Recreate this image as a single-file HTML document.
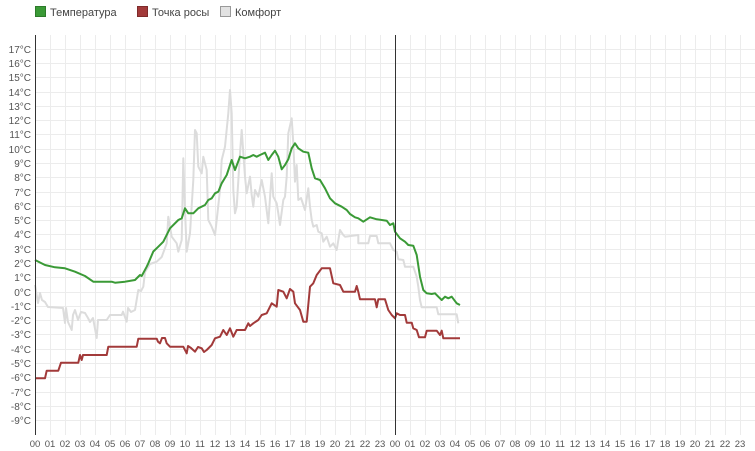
<!DOCTYPE html>
<html><head><meta charset="utf-8"><style>
html,body{margin:0;padding:0;background:#fff;}
svg{display:block;}
</style></head><body>
<svg width="755" height="451" viewBox="0 0 755 451" xmlns="http://www.w3.org/2000/svg" font-family="Liberation Sans, sans-serif">
<g stroke="#ececec" stroke-width="1" shape-rendering="crispEdges">
<line x1="35" y1="49.5" x2="755" y2="49.5"/><line x1="35" y1="63.5" x2="755" y2="63.5"/><line x1="35" y1="77.5" x2="755" y2="77.5"/><line x1="35" y1="92.5" x2="755" y2="92.5"/><line x1="35" y1="106.5" x2="755" y2="106.5"/><line x1="35" y1="120.5" x2="755" y2="120.5"/><line x1="35" y1="134.5" x2="755" y2="134.5"/><line x1="35" y1="149.5" x2="755" y2="149.5"/><line x1="35" y1="163.5" x2="755" y2="163.5"/><line x1="35" y1="177.5" x2="755" y2="177.5"/><line x1="35" y1="192.5" x2="755" y2="192.5"/><line x1="35" y1="206.5" x2="755" y2="206.5"/><line x1="35" y1="220.5" x2="755" y2="220.5"/><line x1="35" y1="234.5" x2="755" y2="234.5"/><line x1="35" y1="249.5" x2="755" y2="249.5"/><line x1="35" y1="263.5" x2="755" y2="263.5"/><line x1="35" y1="277.5" x2="755" y2="277.5"/><line x1="35" y1="292.5" x2="755" y2="292.5"/><line x1="35" y1="306.5" x2="755" y2="306.5"/><line x1="35" y1="320.5" x2="755" y2="320.5"/><line x1="35" y1="334.5" x2="755" y2="334.5"/><line x1="35" y1="349.5" x2="755" y2="349.5"/><line x1="35" y1="363.5" x2="755" y2="363.5"/><line x1="35" y1="377.5" x2="755" y2="377.5"/><line x1="35" y1="392.5" x2="755" y2="392.5"/><line x1="35" y1="406.5" x2="755" y2="406.5"/><line x1="35" y1="420.5" x2="755" y2="420.5"/>
<line x1="50.5" y1="35" x2="50.5" y2="435"/><line x1="65.5" y1="35" x2="65.5" y2="435"/><line x1="80.5" y1="35" x2="80.5" y2="435"/><line x1="95.5" y1="35" x2="95.5" y2="435"/><line x1="110.5" y1="35" x2="110.5" y2="435"/><line x1="125.5" y1="35" x2="125.5" y2="435"/><line x1="140.5" y1="35" x2="140.5" y2="435"/><line x1="155.5" y1="35" x2="155.5" y2="435"/><line x1="170.5" y1="35" x2="170.5" y2="435"/><line x1="185.5" y1="35" x2="185.5" y2="435"/><line x1="200.5" y1="35" x2="200.5" y2="435"/><line x1="215.5" y1="35" x2="215.5" y2="435"/><line x1="230.5" y1="35" x2="230.5" y2="435"/><line x1="245.5" y1="35" x2="245.5" y2="435"/><line x1="260.5" y1="35" x2="260.5" y2="435"/><line x1="275.5" y1="35" x2="275.5" y2="435"/><line x1="290.5" y1="35" x2="290.5" y2="435"/><line x1="305.5" y1="35" x2="305.5" y2="435"/><line x1="320.5" y1="35" x2="320.5" y2="435"/><line x1="335.5" y1="35" x2="335.5" y2="435"/><line x1="350.5" y1="35" x2="350.5" y2="435"/><line x1="365.5" y1="35" x2="365.5" y2="435"/><line x1="380.5" y1="35" x2="380.5" y2="435"/><line x1="410.5" y1="35" x2="410.5" y2="435"/><line x1="425.5" y1="35" x2="425.5" y2="435"/><line x1="440.5" y1="35" x2="440.5" y2="435"/><line x1="455.5" y1="35" x2="455.5" y2="435"/><line x1="470.5" y1="35" x2="470.5" y2="435"/><line x1="485.5" y1="35" x2="485.5" y2="435"/><line x1="500.5" y1="35" x2="500.5" y2="435"/><line x1="515.5" y1="35" x2="515.5" y2="435"/><line x1="530.5" y1="35" x2="530.5" y2="435"/><line x1="545.5" y1="35" x2="545.5" y2="435"/><line x1="560.5" y1="35" x2="560.5" y2="435"/><line x1="575.5" y1="35" x2="575.5" y2="435"/><line x1="590.5" y1="35" x2="590.5" y2="435"/><line x1="605.5" y1="35" x2="605.5" y2="435"/><line x1="620.5" y1="35" x2="620.5" y2="435"/><line x1="635.5" y1="35" x2="635.5" y2="435"/><line x1="650.5" y1="35" x2="650.5" y2="435"/><line x1="665.5" y1="35" x2="665.5" y2="435"/><line x1="680.5" y1="35" x2="680.5" y2="435"/><line x1="695.5" y1="35" x2="695.5" y2="435"/><line x1="710.5" y1="35" x2="710.5" y2="435"/><line x1="725.5" y1="35" x2="725.5" y2="435"/><line x1="740.5" y1="35" x2="740.5" y2="435"/>
</g>
<g fill="none" stroke-width="2" stroke-linejoin="round">
<polyline stroke="#dcdcdc" points="35,285 38,303 40,293 42,300 45,302 48,307 63,308 65,323 66,308 68,322 71.7,330 73,315 75,310 78,320 81,312 85,313 88,318 90,322 93,318 96.7,338 98,320 106.7,320 110,315 121.7,315 123,311.7 126.7,321.7 128,308 131,312 135,310 138.3,290 141,291 143.3,286.7 145,272 150,264 153,263 156.7,261.7 161.7,257 166.7,243.3 168.3,216.7 171.7,236.7 176.7,243.3 178.3,251.7 181.7,240 183.3,158.3 185,210 186.7,251.7 190,233.3 193.3,180 195,130 196.7,133.3 198.3,166.7 201.7,173.3 203.3,156.7 206.7,170 208.3,220 211.7,226.7 215,235 216.7,220 220,190 221.7,160 225,146.7 228.3,113.3 230,90 231.7,113.3 233.3,190 235,213.3 236.7,206.7 240,153.3 241.7,130 245,176.7 246.7,193.3 250,176.7 251.7,195 253.3,206.7 255,190 258.3,196.7 261.7,180 265,196.7 268.3,223.3 271.7,173.3 273.3,196.7 276.7,203.3 278.3,213.3 280,225 283.3,200 285,196.7 286.7,176.7 288.3,133.3 291.7,118.3 293.3,143.3 295,181.7 296.7,165 298.3,200 301,198 305,210 308.3,188.3 310,206.7 311.7,220 313.3,226.7 316.7,225 318.3,231.7 321.7,233.3 323.3,241.7 326.7,236.7 330,246.7 333.3,243.3 336.7,250 340,230 343.3,235 345,236.7 358.3,235 358.3,243.3 368.3,243.3 370,236 376.7,236 378.3,243.3 390,243.3 393.3,250 396.7,251.7 398.3,259.3 403.3,260 405,266.7 413.3,266.7 416.7,276.7 418.3,286.7 420,300 421.7,307.3 436.7,307.3 438.3,314.3 456.7,314.3 458.3,323.3"/>
<polyline stroke="#3a9a36" points="35,260 45,265 55,267.3 65,268.3 75,271.7 85,276 93.3,281.7 101.7,281.7 111.7,281.7 115,282.7 125,281.7 135,280 140,275 141.7,276 146.7,266.7 148.3,263.3 153.3,251.5 158.3,246.7 161.7,243.3 163.3,241.7 170,228.3 178.3,220 181.7,218.3 185,208.3 188.3,213.3 193.3,213.3 198.3,208.3 205,205 208.3,200 211.7,198.3 215,193.3 218.3,191.7 221.7,183.3 226.7,175 231.7,160 235,170 240,156.7 245,158.3 250,156.7 253.3,155 256.7,156.7 260,155 265,152.7 268.3,160 271.7,155 275,150.7 278.3,156.7 281.7,169.3 285,165 288.3,159.3 291.7,148.3 295,143.3 298.3,148.3 303.3,151.7 308.3,152.7 311.7,168.3 315,178.3 320,180 325,188.3 330,198.3 335,203.3 341.7,206.7 346.7,210 350,214 355,217.3 358.3,218.3 363.3,221.7 370,217.3 376.7,219.3 386.7,220.7 390,225 393.3,223.3 395,231.7 400,238.3 405,241.7 408.3,245 413.3,245.7 416.7,255 420,276.7 423.3,290 426.7,293.3 431.7,294 435,293.3 438.3,296.7 441.7,300 445,296.7 448.3,298.3 451.7,296.7 456.7,303.3 460,305"/>
<polyline stroke="#a23a3a" points="35,378.3 45,378.3 46.7,370.7 58.3,370.7 61,362.7 78.3,362.7 80,355 81.7,360 83,355 85,355 106.7,355 108.3,346.7 136.7,346.7 138.3,338.7 156.7,338.7 158,341.7 160,343.3 162,338 165,338 166.7,343.3 170,346.7 183.3,346.7 186.7,353.3 188,346 191,348 195,351.7 198,347 201.7,348.3 204,352 206.7,350 211.7,345 215,338.3 220,336.7 223.3,330 226.7,335 230,328.3 233.3,336.7 236.7,330 241.7,330 245,330 248.3,323.3 250,326 253.3,323.3 258.3,320 261.7,315 266.7,313.3 271.7,303.3 276.7,306.7 278.3,290 283.3,291.7 286.7,298.3 290,289 293.3,291.7 295,303.3 300,310 303.3,321.7 306.7,321.7 310,286.7 313.3,283.3 316.7,275 321.7,268.3 330,268.3 333.3,283.3 340,285 343.3,291.7 346.7,291.7 355,291.7 356.7,286 358.3,291.7 360,299.3 375,299.3 376.7,307.3 378.3,299.3 385,299.3 388.3,310 391.7,315 395,318.3 396.7,313.3 400,315 405,315 406.7,322.7 411.7,322.7 413.3,328.3 416.7,330 419,337.3 425,337.3 426.7,330.7 436.7,330.7 440,335 441.7,330.7 443.3,338.3 460,338.3"/>
</g>
<g stroke="#333" stroke-width="1" shape-rendering="crispEdges">
<line x1="35.5" y1="35" x2="35.5" y2="435"/>
<line x1="395.5" y1="35" x2="395.5" y2="435"/>
</g>
<g font-size="10" fill="#555" text-anchor="end">
<text x="31" y="53">17°C</text><text x="31" y="67">16°C</text><text x="31" y="81">15°C</text><text x="31" y="96">14°C</text><text x="31" y="110">13°C</text><text x="31" y="124">12°C</text><text x="31" y="138">11°C</text><text x="31" y="153">10°C</text><text x="31" y="167">9°C</text><text x="31" y="181">8°C</text><text x="31" y="196">7°C</text><text x="31" y="210">6°C</text><text x="31" y="224">5°C</text><text x="31" y="238">4°C</text><text x="31" y="253">3°C</text><text x="31" y="267">2°C</text><text x="31" y="281">1°C</text><text x="31" y="296">0°C</text><text x="31" y="310">-1°C</text><text x="31" y="324">-2°C</text><text x="31" y="338">-3°C</text><text x="31" y="353">-4°C</text><text x="31" y="367">-5°C</text><text x="31" y="381">-6°C</text><text x="31" y="396">-7°C</text><text x="31" y="410">-8°C</text><text x="31" y="424">-9°C</text>
</g>
<g font-size="9.5" fill="#555" text-anchor="middle">
<text x="35" y="447">00</text><text x="50" y="447">01</text><text x="65" y="447">02</text><text x="80" y="447">03</text><text x="95" y="447">04</text><text x="110" y="447">05</text><text x="125" y="447">06</text><text x="140" y="447">07</text><text x="155" y="447">08</text><text x="170" y="447">09</text><text x="185" y="447">10</text><text x="200" y="447">11</text><text x="215" y="447">12</text><text x="230" y="447">13</text><text x="245" y="447">14</text><text x="260" y="447">15</text><text x="275" y="447">16</text><text x="290" y="447">17</text><text x="305" y="447">18</text><text x="320" y="447">19</text><text x="335" y="447">20</text><text x="350" y="447">21</text><text x="365" y="447">22</text><text x="380" y="447">23</text>
<text x="395" y="447">00</text><text x="410" y="447">01</text><text x="425" y="447">02</text><text x="440" y="447">03</text><text x="455" y="447">04</text><text x="470" y="447">05</text><text x="485" y="447">06</text><text x="500" y="447">07</text><text x="515" y="447">08</text><text x="530" y="447">09</text><text x="545" y="447">10</text><text x="560" y="447">11</text><text x="575" y="447">12</text><text x="590" y="447">13</text><text x="605" y="447">14</text><text x="620" y="447">15</text><text x="635" y="447">16</text><text x="650" y="447">17</text><text x="665" y="447">18</text><text x="680" y="447">19</text><text x="695" y="447">20</text><text x="710" y="447">21</text><text x="725" y="447">22</text><text x="740" y="447">23</text>
</g>
<g font-size="11" fill="#444">
<rect x="35.5" y="6.5" width="10" height="10" fill="#3a9a36" stroke="#2d7a2a"/>
<text x="50" y="16">Температура</text>
<rect x="137.5" y="6.5" width="10" height="10" fill="#a23a3a" stroke="#7e2b2b"/>
<text x="152" y="16">Точка росы</text>
<rect x="220.5" y="6.5" width="10" height="10" fill="#e2e2e2" stroke="#999"/>
<text x="235" y="16">Комфорт</text>
</g>
</svg>
</body></html>
